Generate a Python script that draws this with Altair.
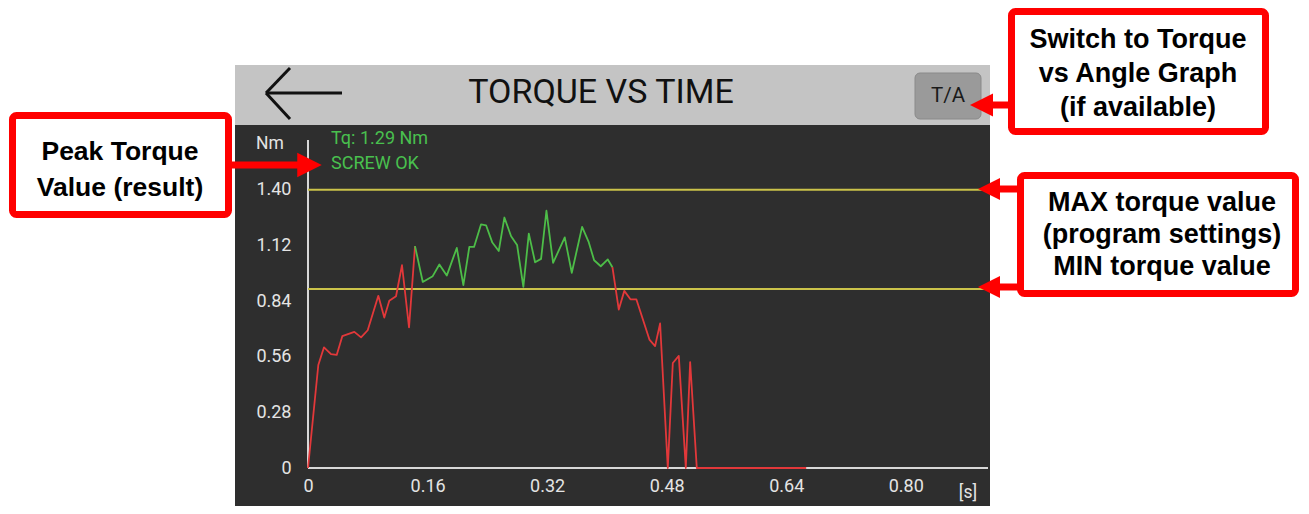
import altair as alt
import pandas as pd

# ---- chart values ----
time_s = [0.000, 0.0138, 0.0214, 0.0308, 0.0384, 0.0459, 0.0620, 0.0710, 0.0799, 0.0941,
          0.1021, 0.1088, 0.1178, 0.1258, 0.1352, 0.1432, 0.1536, 0.1669, 0.1758, 0.1857,
          0.1991, 0.2079, 0.2159, 0.2222, 0.2316, 0.2383, 0.2467, 0.2553, 0.2628, 0.2718,
          0.2798, 0.2882, 0.2955, 0.3039, 0.3119, 0.3191, 0.3280, 0.3436, 0.3530, 0.3668,
          0.3757, 0.3829, 0.3918, 0.4012, 0.4074, 0.4159, 0.4233, 0.4315, 0.4395, 0.4569,
          0.4645, 0.4712, 0.4815, 0.4882, 0.4962, 0.5056, 0.5114, 0.5203, 0.6667]
torque_nm = [0.000, 0.518, 0.607, 0.573, 0.569, 0.663, 0.685, 0.657, 0.693, 0.866,
             0.757, 0.841, 0.864, 1.020, 0.707, 1.116, 0.936, 0.965, 1.024, 0.968,
             1.107, 0.920, 1.112, 1.112, 1.226, 1.221, 1.134, 1.092, 1.260, 1.166,
             1.122, 0.911, 1.179, 1.035, 1.052, 1.294, 1.032, 1.160, 0.982, 1.213,
             1.136, 1.045, 1.015, 1.049, 1.010, 0.797, 0.891, 0.849, 0.848, 0.646,
             0.613, 0.727, 0.000, 0.528, 0.564, 0.000, 0.533, 0.000, 0.000]
# index ranges of the curve parts: before window (red), in window (green), after (red)
segment_names = ["before", "inside", "after"]
segment_bounds = [(0, 15), (15, 44), (44, 58)]
max_torque = 1.40
min_torque = 0.90
peak_torque = 1.29
result_text = "SCREW OK"
x_ticks = [0, 0.16, 0.32, 0.48, 0.64, 0.80]
y_ticks = [0, 0.28, 0.56, 0.84, 1.12, 1.40]

rows = []
for name, (lo, hi) in zip(segment_names, segment_bounds):
    for i in range(lo, hi + 1):
        rows.append({"t": time_s[i], "tq": torque_nm[i], "seg": name, "i": i})
curve = pd.DataFrame(rows)
limits = pd.DataFrame({"v": [max_torque, min_torque]})
one = pd.DataFrame({"k": [0]})

W, H = 680, 328
RED = "#ff0000"
UI = "Roboto"
ANN = "Liberation Sans"

xs = alt.Scale(domain=[0, 0.91], nice=False, zero=False)
ys = alt.Scale(domain=[0, 1.65], nice=False, zero=False)

lab_expr = "datum.value == 0 ? '0' : format(datum.value, '.2f')"
x_axis = alt.Axis(values=x_ticks, labelExpr=lab_expr, domain=False, ticks=False, grid=False,
                  labelColor="#e4e4e4", labelFont=UI, labelFontSize=18, labelPadding=9,
                  title=None, zindex=2, labelFlush=False, labelOverlap=False)
y_axis = alt.Axis(values=y_ticks, labelExpr=lab_expr, domain=False, ticks=False, grid=False,
                  labelColor="#e4e4e4", labelFont=UI, labelFontSize=18, labelPadding=17,
                  title=None, zindex=2, labelOverlap=False)


def deco():
    return alt.Chart(one)


def seg(x1, y1, x2, y2, color, width):
    return deco().mark_rule(color=color, strokeWidth=width, strokeCap="butt").encode(
        x=alt.value(x1), y=alt.value(y1), x2=alt.value(x2), y2=alt.value(y2))


def label(x, y, txt, size, color, font=UI, weight="normal", align="center", lh=None):
    kw = dict(font=font, fontSize=size, color=color, fontWeight=weight, align=align,
              baseline="middle")
    if lh is not None:
        kw["lineHeight"] = lh
    return deco().mark_text(**kw).encode(x=alt.value(x), y=alt.value(y), text=alt.value(txt))


def head(x, y, right, size):
    shape = "M 1 0 L -1 -1 L -1 1 Z" if right else "M -1 0 L 1 -1 L 1 1 Z"
    return deco().mark_point(shape=shape, filled=True, opacity=1, strokeWidth=0,
                             color=RED, size=size).encode(x=alt.value(x), y=alt.value(y))


def box(x1, y1, x2, y2):
    return deco().mark_rect(fill="white", stroke=RED, strokeWidth=7, cornerRadius=4).encode(
        x=alt.value(x1), y=alt.value(y1), x2=alt.value(x2), y2=alt.value(y2))


layers = []
# device screen
layers.append(deco().mark_rect(color="#2e2e2e").encode(
    x=alt.value(-73), x2=alt.value(682), y=alt.value(-15), y2=alt.value(380)))
layers.append(deco().mark_rect(color="#c4c4c4").encode(
    x=alt.value(-73), x2=alt.value(682), y=alt.value(-75), y2=alt.value(-15)))
# back arrow
layers.append(seg(-42, -47, 34, -47, "#111111", 3))
layers.append(seg(-18, -72, -42, -47, "#111111", 3))
layers.append(seg(-42, -47, -18, -21, "#111111", 3))
# title + T/A button
layers.append(label(293, -47, "TORQUE VS TIME", 34, "#111111"))
layers.append(deco().mark_rect(fill="#9a9a9a", stroke="#8a8a8a", strokeWidth=1, cornerRadius=5).encode(
    x=alt.value(607), x2=alt.value(673), y=alt.value(-67), y2=alt.value(-21)))
layers.append(label(640, -44, "T/A", 20.5, "#1a1a1a"))

# invisible copy of the curve that carries the axes
layers.append(alt.Chart(curve).mark_line(opacity=0).encode(
    x=alt.X("t:Q", scale=xs, axis=x_axis),
    y=alt.Y("tq:Q", scale=ys, axis=y_axis)))
# axis lines
layers.append(deco().mark_rule(color="#d8d8d8", strokeWidth=2).encode(
    x=alt.X(datum=0, scale=xs, axis=x_axis), y=alt.value(0), y2=alt.value(H)))
layers.append(deco().mark_rule(color="#d8d8d8", strokeWidth=2).encode(
    y=alt.Y(datum=0, scale=ys, axis=y_axis), x=alt.value(0), x2=alt.value(W)))
# limit lines
layers.append(alt.Chart(limits).mark_rule(color="#cbc34a", strokeWidth=2).encode(
    y=alt.Y("v:Q", scale=ys, axis=y_axis), x=alt.value(0), x2=alt.value(682)))
# torque curve
layers.append(alt.Chart(curve).mark_line(strokeWidth=1.8, strokeJoin="round").encode(
    x=alt.X("t:Q", scale=xs, axis=x_axis),
    y=alt.Y("tq:Q", scale=ys, axis=y_axis),
    color=alt.Color("seg:N", scale=alt.Scale(domain=segment_names,
                                             range=["#e2383a", "#4dbd48", "#e2383a"]),
                    legend=None),
    detail="seg:N",
    order="i:Q"))
# units and result texts
layers.append(label(-38, 4, "Nm", 17.5, "#e4e4e4"))
layers.append(label(660, 353, "[s]", 17.5, "#e4e4e4"))
layers.append(label(23, -1, f"Tq: {peak_torque:.2f} Nm", 18, "#49c04e", align="left"))
layers.append(label(23, 24, result_text, 18, "#49c04e", align="left"))

# annotation arrows (shafts)
layers.append(seg(-82, 25, -4, 25, RED, 7))
layers.append(seg(680, -35, 704, -35, RED, 7))
layers.append(seg(688, 49, 714, 49, RED, 7))
layers.append(seg(688, 147, 714, 147, RED, 7))
# annotation boxes
layers.append(box(-295.5, -24.5, -79.5, 74.5))
layers.append(box(703.5, -128.5, 957.5, -8.5))
layers.append(box(712.5, 35.5, 987.5, 153.5))
# annotation texts (y = first line)
layers.append(label(-188, 12, ["Peak Torque", "Value (result)"], 26.5, "black", ANN, "bold", lh=36))
layers.append(label(830, -100, ["Switch to Torque", "vs Angle Graph", "(if available)"],
                    27, "black", ANN, "bold", lh=34))
layers.append(label(854, 63, ["MAX torque value", "(program settings)", "MIN torque value"],
                    27, "black", ANN, "bold", lh=32))
# arrow heads
layers.append(head(1.5, 25, True, 600))
layers.append(head(673.5, -35, False, 529))
layers.append(head(681, 49, False, 484))
layers.append(head(681, 147, False, 484))

chart = alt.layer(*layers).properties(
    width=W, height=H,
    autosize=alt.AutoSizeParams(type="none"),
    padding={"left": 300, "top": 132, "right": 313, "bottom": 38},
    background="white",
).configure_view(stroke=None)

chart.save("out.html", embed_options={"renderer": "svg", "actions": False})
